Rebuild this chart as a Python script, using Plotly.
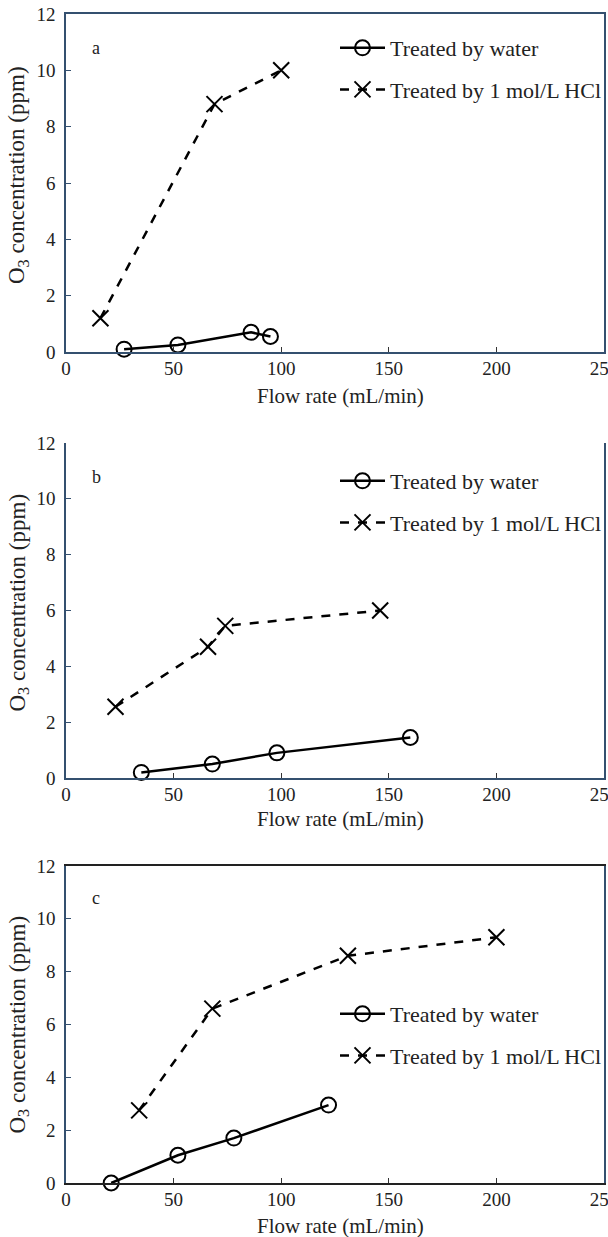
import plotly.graph_objects as go

# Panel a
a_water_x = [27, 52, 86, 95]
a_water_y = [0.1, 0.25, 0.7, 0.55]
a_hcl_x = [16, 69, 100]
a_hcl_y = [1.2, 8.8, 10.0]

# Panel b
b_water_x = [35, 68, 98, 160]
b_water_y = [0.2, 0.5, 0.9, 1.45]
b_hcl_x = [23, 66, 74, 146]
b_hcl_y = [2.55, 4.7, 5.45, 6.0]

# Panel c
c_water_x = [21, 52, 78, 122]
c_water_y = [0.0, 1.05, 1.7, 2.95]
c_hcl_x = [34, 68, 131, 200]
c_hcl_y = [2.75, 6.6, 8.6, 9.3]

panel_letters = ["a", "b", "c"]
x_ticks = [0, 50, 100, 150, 200, 250]
y_ticks = [0, 2, 4, 6, 8, 10, 12]
name_water = "Treated by water"
name_hcl = "Treated by 1 mol/L HCl"
x_title = "Flow rate (mL/min)"
y_title = "O<sub>3</sub> concentration (ppm)"

W, H = 608, 1237
FONT = "Liberation Serif, Times New Roman, serif"
AX = "#34506f"

# plot area in pixels
L, R, T, B = 66, 604, 14, 1183
PW, PH = R - L, B - T

def xp(px):
    return (px - L) / PW

def yp(py):
    return (B - py) / PH

boxes = [(14, 352), (443, 778), (866, 1183)]
legend_tops = [27, 460, 993]
title_ys = [396, 819, 1226]
ytitle_shift = [-8, -8, 0]

fig = go.Figure()

data = [
    (a_water_x, a_water_y, a_hcl_x, a_hcl_y),
    (b_water_x, b_water_y, b_hcl_x, b_hcl_y),
    (c_water_x, c_water_y, c_hcl_x, c_hcl_y),
]
legend_names = ["legend", "legend2", "legend3"]

for i, (wx, wy, hx, hy) in enumerate(data):
    sfx = "" if i == 0 else str(i + 1)
    fig.add_trace(go.Scatter(
        x=wx, y=wy, mode="lines+markers", name=name_water,
        line=dict(color="black", width=2.5),
        marker=dict(symbol="circle-open", size=15, color="black", line=dict(width=2)),
        xaxis="x" + sfx, yaxis="y" + sfx, legend=legend_names[i], legendgroup=f"w{i}",
        cliponaxis=False,
    ))
    fig.add_trace(go.Scatter(
        x=hx, y=hy, mode="lines+markers", name=name_hcl,
        line=dict(color="black", width=2.5, dash="dash"),
        marker=dict(symbol="x-thin-open", size=16, color="black", line=dict(width=2, color="black")),
        xaxis="x" + sfx, yaxis="y" + sfx, legend=legend_names[i], legendgroup=f"h{i}",
        cliponaxis=False,
    ))

layout = dict(
    width=W, height=H, autosize=False,
    margin=dict(l=L, r=W - R, t=T, b=H - B, pad=0, autoexpand=False),
    paper_bgcolor="white", plot_bgcolor="white",
    font=dict(family=FONT, size=19, color="#222"),
)

annotations = []
for i, (top, bot) in enumerate(boxes):
    sfx = "" if i == 0 else str(i + 1)
    mirror = i != 1
    layout["xaxis" + sfx] = dict(
        domain=[0, 1], range=[0, 250], tickvals=x_ticks,
        ticks="inside", ticklen=5, tickcolor="#333", showgrid=False, zeroline=False,
        showline=True, linecolor="#222" if i == 2 else AX, linewidth=1.5,
        mirror=mirror, anchor="y" + sfx, automargin=False,
        ticklabelstandoff=-2, ticklabeloverflow="allow",
        tickfont=dict(family=FONT, size=19, color="#222"),
    )
    layout["yaxis" + sfx] = dict(
        domain=[yp(bot), yp(top)], range=[0, 12], tickvals=y_ticks,
        ticks="inside", ticklen=5, tickcolor=AX, showgrid=False, zeroline=False,
        showline=True, linecolor=AX, linewidth=1.5, mirror=True,
        anchor="x" + sfx, ticklabelstandoff=5, automargin=False,
        ticklabeloverflow="allow",
        tickfont=dict(family=FONT, size=19, color="#222"),
    )
    annotations.append(dict(
        text=panel_letters[i], xref=f"x{sfx} domain", yref=f"y{sfx} domain",
        x=0.045, y=0.9, xanchor="left", yanchor="middle", showarrow=False,
        font=dict(family=FONT, size=18, color="#222"),
    ))
    annotations.append(dict(
        text=y_title, xref="paper", yref="paper", x=xp(18),
        y=yp((top + bot) / 2 + ytitle_shift[i]),
        xanchor="center", yanchor="middle", textangle=-90, showarrow=False,
        font=dict(family=FONT, size=23, color="#222"),
    ))
    annotations.append(dict(
        text=x_title, xref="paper", yref="paper", x=xp(340), y=yp(title_ys[i]),
        xanchor="center", yanchor="middle", showarrow=False,
        font=dict(family=FONT, size=21, color="#222"),
    ))
    layout[legend_names[i]] = dict(
        x=xp(335), y=yp(legend_tops[i]), xanchor="left", yanchor="top",
        bgcolor="rgba(0,0,0,0)", traceorder="grouped", tracegroupgap=10,
        font=dict(family=FONT, size=22, color="#222"), itemwidth=45,
    )

layout["annotations"] = annotations
fig.update_layout(**layout)
fig.write_html(
    "out.html",
    config={"responsive": False, "displayModeBar": False},
    post_script="document.body.style.margin='0px';document.body.style.overflow='hidden';",
)
